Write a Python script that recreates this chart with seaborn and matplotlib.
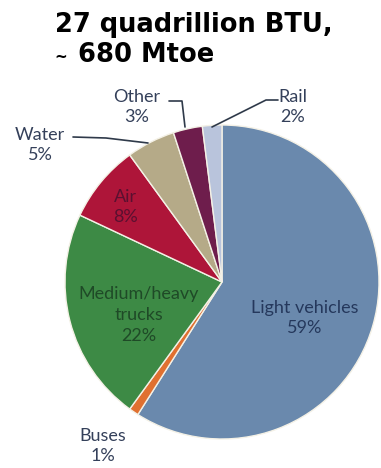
import matplotlib
matplotlib.use("Agg")
import matplotlib.pyplot as plt
import seaborn as sns

# Transport energy use by mode, share of total (%)
modes = ["Light vehicles", "Buses", "Medium/heavy\ntrucks", "Air", "Water", "Other", "Rail"]
shares = [59, 1, 22, 8, 5, 3, 2]
slice_colors = ["#6a89ad", "#e07030", "#3d8a45", "#ae1539", "#b5aa88", "#6e1d4c", "#b9c4dc"]

sns.set_theme(style="white")
plt.rcParams["font.family"] = ["Lato", "DejaVu Sans"]

palette = sns.color_palette(slice_colors)

fig = plt.figure(figsize=(3.81, 4.68), dpi=100)
fig.patch.set_facecolor("white")

W, H = 381, 468
cx, cy, r = 222, 282, 157
ax = fig.add_axes([(cx - r) / W, (H - cy - r) / H, 2 * r / W, 2 * r / H])
ax.pie(shares, colors=palette, startangle=90, counterclock=False, radius=1,
       wedgeprops=dict(edgecolor="#f4f1e6", linewidth=1.0))
ax.set_xlim(-1, 1)
ax.set_ylim(-1, 1)
ax.set_aspect("equal")
ax.axis("off")


def d(px, py):
    """pixel position -> pie data coords"""
    return ((px - cx) / r, (cy - py) / r)


label_kw = dict(ha="center", va="center", fontsize=13, linespacing=1.38)

# labels placed inside slices
inside = {
    "Light vehicles": ((305, 318), "#25385c"),
    "Medium/heavy\ntrucks": ((139, 315), "#1f4a27"),
    "Air": ((125, 207), "#5a1030"),
}
for name, share in zip(modes, shares):
    if name in inside:
        (px, py), col = inside[name]
        ax.text(*d(px, py), f"{name}\n{share}%", color=col, **label_kw)

# labels placed outside with leader lines
outside = {
    "Buses": (103, 446, None),
    "Water": (40, 145, [(73, 137), (106, 138), (148, 143)]),
    "Other": (137, 107, [(169, 101), (182, 101), (185, 127)]),
    "Rail": (293, 107, [(278, 100), (266, 100), (212, 127)]),
}
for name, share in zip(modes, shares):
    if name in outside:
        px, py, path = outside[name]
        ax.text(*d(px, py), f"{name}\n{share}%", color="#34405a", clip_on=False, **label_kw)
        if path:
            xs, ys = zip(*[d(x, y) for x, y in path])
            ax.plot(xs, ys, color="#2f3a4a", lw=1.2, clip_on=False)

# heading
fig.text(55 / W, 1 - 32 / H, "27 quadrillion BTU,", fontsize=18.5, fontweight="bold",
         family="DejaVu Sans", color="black", ha="left", va="baseline")
fig.text(54 / W, 1 - 62 / H, "~", fontsize=11, fontweight="bold",
         family="DejaVu Sans", color="black", ha="left", va="baseline")
fig.text(78 / W, 1 - 62 / H, "680 Mtoe", fontsize=18.5, fontweight="bold",
         family="DejaVu Sans", color="black", ha="left", va="baseline")

fig.savefig("out.png", dpi=100, facecolor="white")
